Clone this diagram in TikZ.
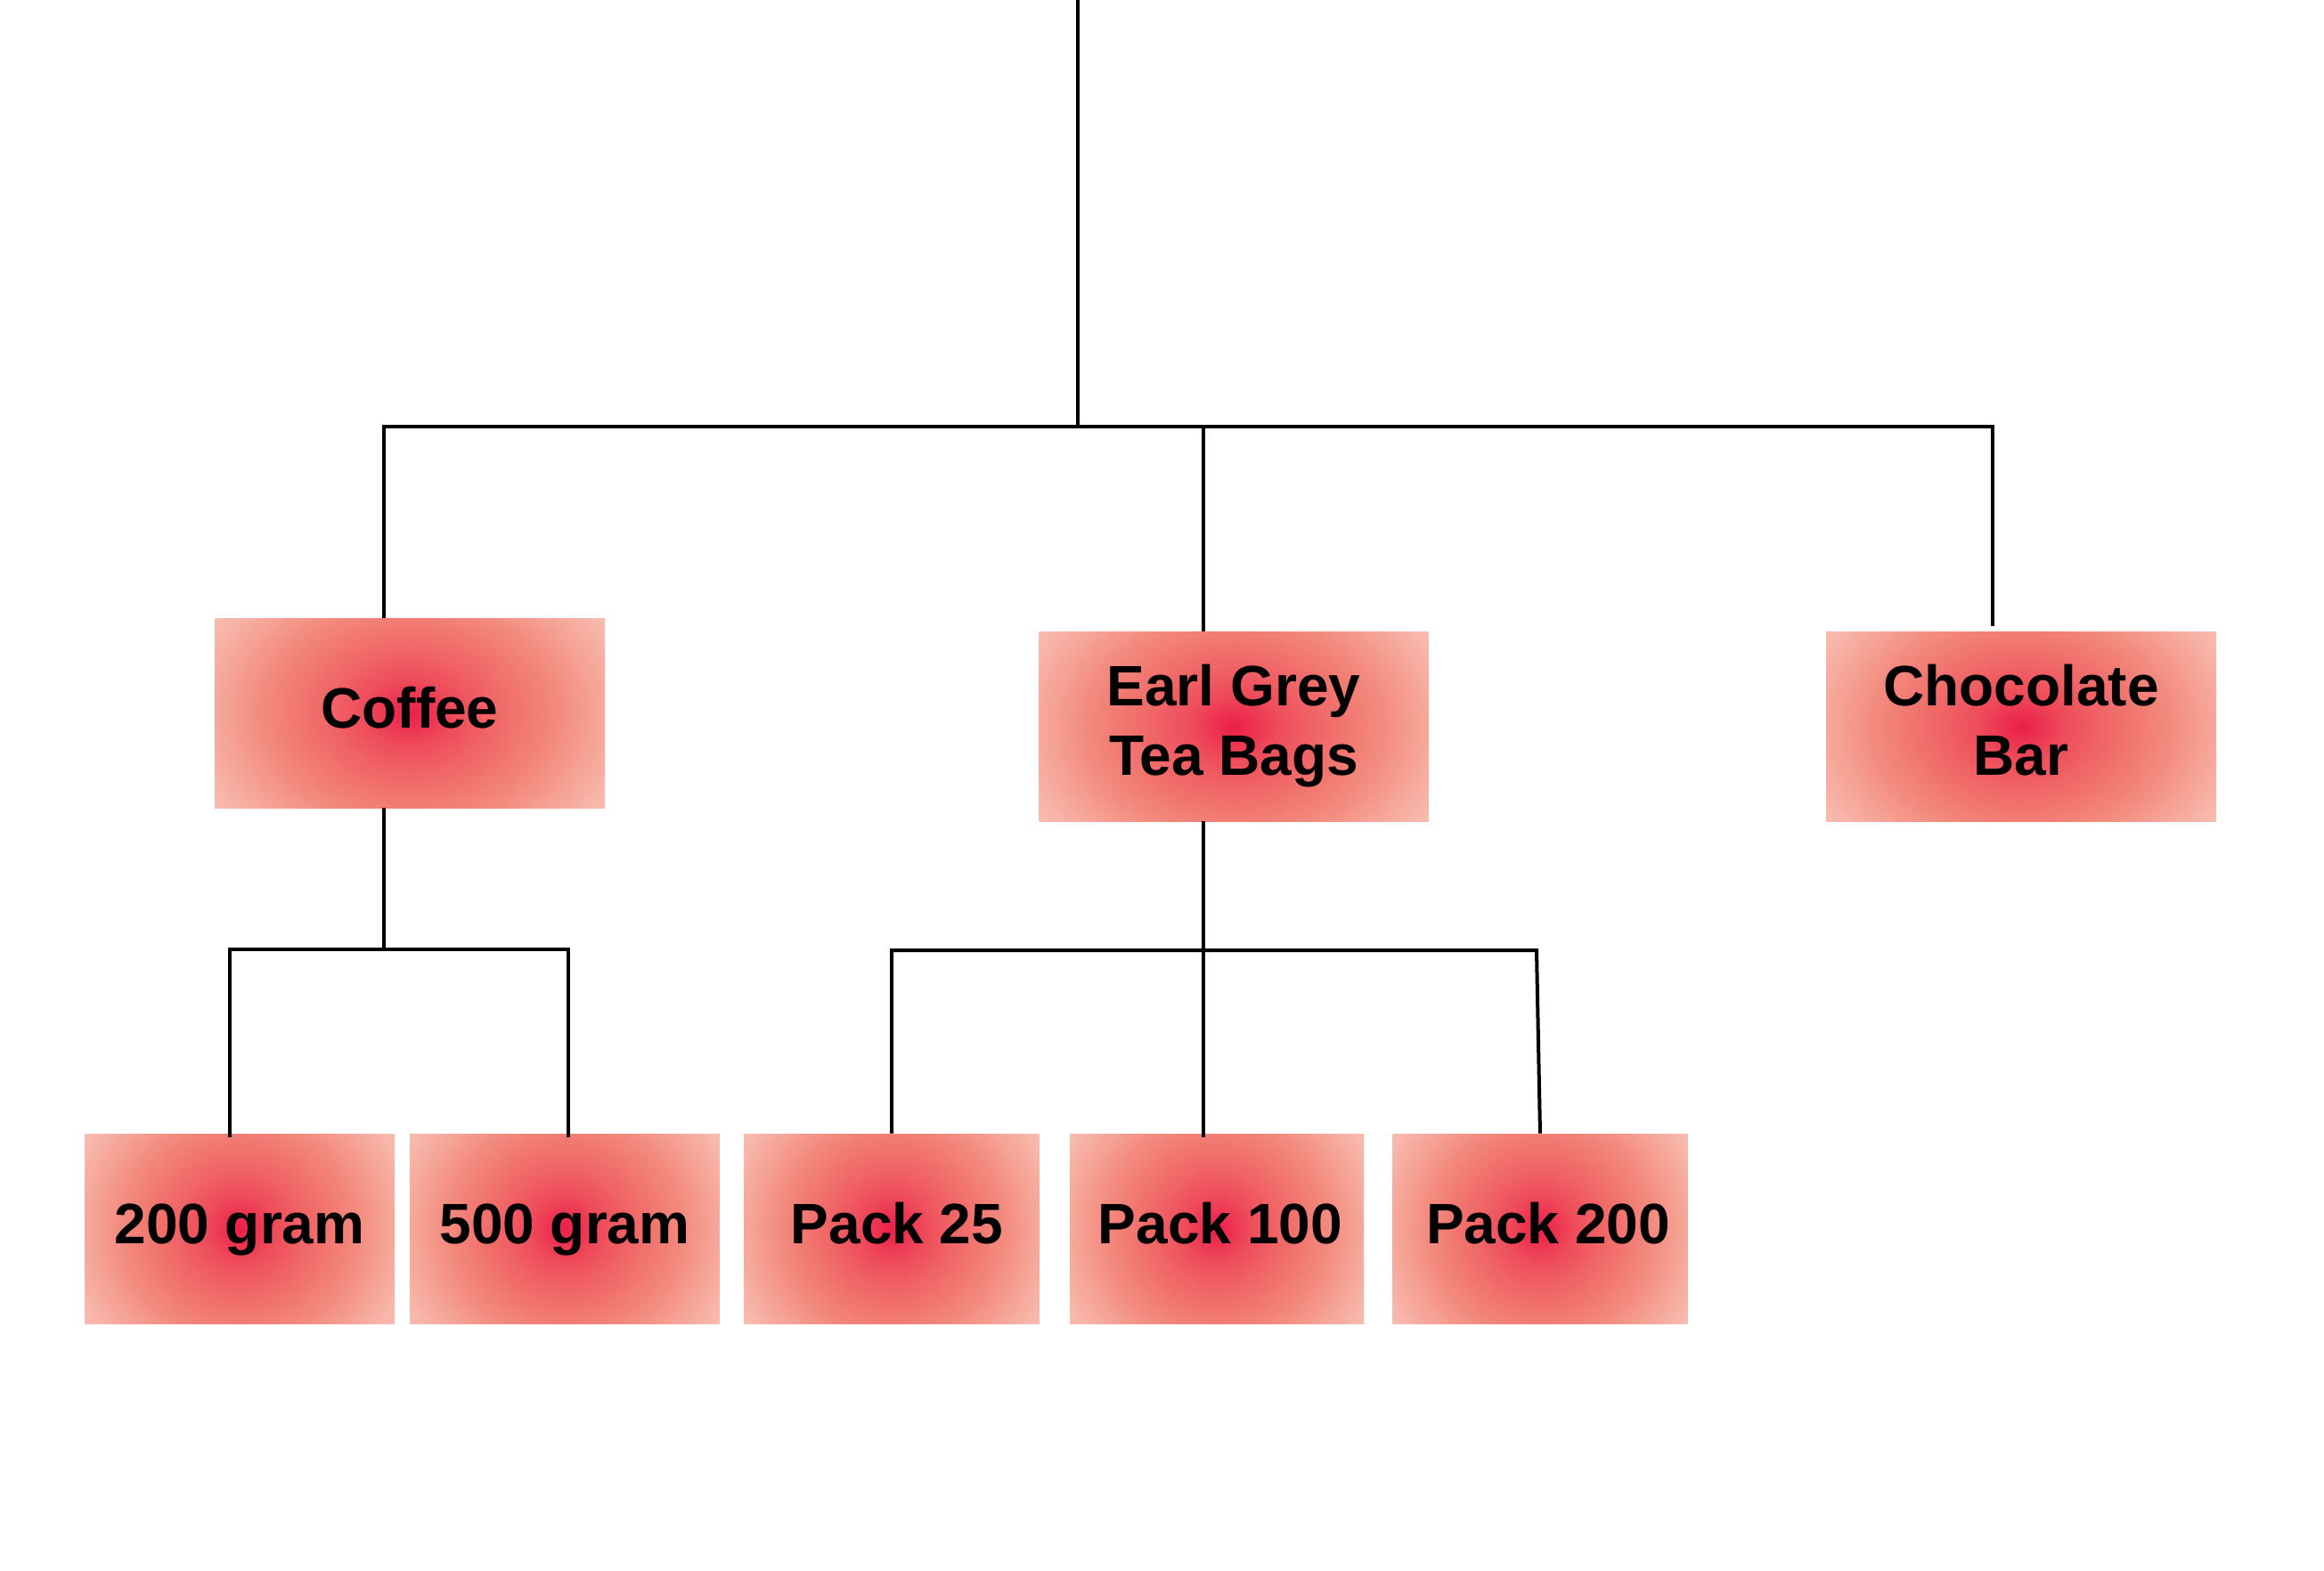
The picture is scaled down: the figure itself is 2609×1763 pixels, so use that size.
\documentclass[tikz,border=0pt]{standalone}
\usepackage{fontspec}
\setmainfont{Liberation Sans}
\usetikzlibrary{calc}

% colour ramp of the box glow, from the hot centre outwards
\definecolor{glowA}{HTML}{EB1F48}
\definecolor{glowB}{HTML}{EC3050}
\definecolor{glowC}{HTML}{EE4C5A}
\definecolor{glowD}{HTML}{F06466}
\definecolor{glowE}{HTML}{F17870}
\definecolor{glowF}{HTML}{F38C80}
\definecolor{glowG}{HTML}{F5A395}
\definecolor{glowH}{HTML}{F7B8AB}
\definecolor{glowI}{HTML}{F9C7BB}
\definecolor{glowJ}{HTML}{FACDC1}

\pgfdeclareradialshading{boxglow}{\pgfpointorigin}{%
  color(0bp)=(glowA); color(2.2bp)=(glowB); color(5.5bp)=(glowC);
  color(10bp)=(glowD); color(14.3bp)=(glowE); color(18.7bp)=(glowF);
  color(23bp)=(glowG); color(27.5bp)=(glowH); color(33bp)=(glowI);
  color(40bp)=(glowJ); color(71bp)=(glowJ)}

\tikzset{
  % shaded item box: #1 = width, #2 = height
  box/.style 2 args={rectangle, inner sep=0pt, draw=none,
    minimum width=#1, minimum height=#2,
    path picture={\path[shading=boxglow]
      ([shift={(-0.515*#1,-0.8*#2)}]path picture bounding box.center) rectangle
      ([shift={(0.515*#1,0.8*#2)}]path picture bounding box.center);}},
  lbl/.style={font=\fontsize{32}{39}\selectfont\bfseries, inner sep=0pt,
    anchor=base, text=black},
  wire/.style={line width=2pt, draw=black}
}

\begin{document}
\begin{tikzpicture}[x=0.5pt, y=-0.5pt]
\useasboundingbox (0,0) rectangle (2609,1763);

% item boxes
\node[box={219pt}{106.5pt}] (coffee) at (460,800.5) {};
\node[box={218.5pt}{106.5pt}] (earl) at (1385,815.5) {};
\node[box={219pt}{106.5pt}] (choc) at (2269,815.5) {};
\node[box={174pt}{106.5pt}] (g200) at (269,1379.5) {};
\node[box={174pt}{106.5pt}] (g500) at (634,1379.5) {};
\node[box={165.5pt}{106.5pt}] (p25) at (1001,1379.5) {};
\node[box={165pt}{106.5pt}] (p100) at (1366,1379.5) {};
\node[box={165.5pt}{106.5pt}] (p200) at (1729,1379.5) {};

% labels
\node[lbl] (coffee-t) at ($(coffee.center)+(0,16.5)$) {Coffee};
\node[lbl] (earl-t) at ($(earl.center)+(0,-23)$)
  {\begin{tabular}[t]{@{}c@{}}Earl Grey\\Tea Bags\end{tabular}};
\node[lbl] (choc-t) at ($(choc.center)+(0,-23)$)
  {\begin{tabular}[t]{@{}c@{}}Chocolate\\Bar\end{tabular}};
\node[lbl] (g200-t) at ($(g200.center)+(0,16.5)$) {200 gram};
\node[lbl] (g500-t) at ($(g500.center)+(0,16.5)$) {500 gram};
\node[lbl] (p25-t) at ($(p25.center)+(6,16.5)$) {Pack 25};
\node[lbl] (p100-t) at ($(p100.center)+(4,16.5)$) {Pack 100};
\node[lbl] (p200-t) at ($(p200.center)+(9,16.5)$) {Pack 200};

% junction points of the tree
\coordinate (root) at (1210,0);
\coordinate (hub) at (1210,479);
\coordinate (busC) at (431,479);
\coordinate (busE) at (1351,479);
\coordinate (busK) at (2237,479);
\coordinate (cM) at (431,1066);
\coordinate (cL) at (258,1066);
\coordinate (cR) at (638,1066);
\coordinate (tL) at (1001,1067);
\coordinate (tR) at (1725,1067);

% top level
\draw[wire] (root) -- (hub);
\draw[wire] (busC |- coffee.north) -- (busC) -- (busK)
  -- ($(busK |- choc.north)+(0,-6)$);
\draw[wire] (busE) -- (busE |- earl.north);

% coffee branch
\draw[wire] (busC |- coffee.south) -- ($(cM)+(0,-2)$);
\draw[wire] ($(cL |- g200.north)+(0,4)$) -- (cL) -- (cR)
  -- ($(cR |- g500.north)+(0,4)$);

% tea branch
\draw[wire] (p25.north) -- (tL) -- (tR) -- (p200.north);
\draw[wire] (busE |- earl.south) -- ($(busE |- p100.north)+(0,4)$);
\end{tikzpicture}
\end{document}
